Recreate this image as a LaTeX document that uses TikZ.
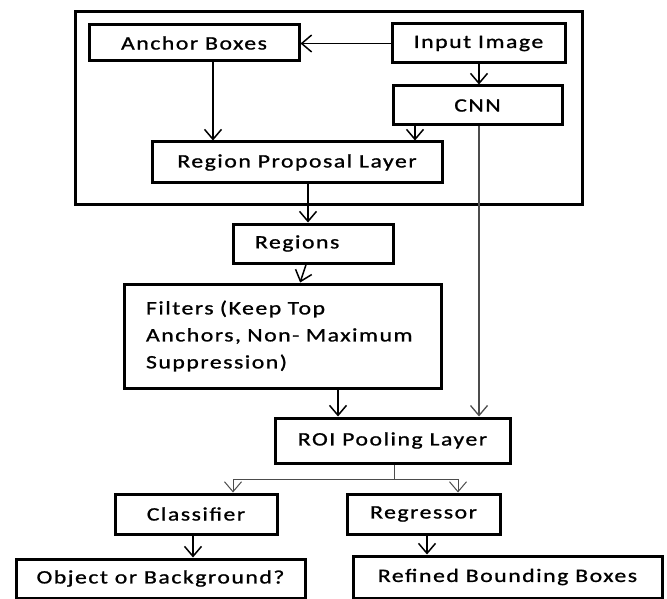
\documentclass[tikz,border=0pt]{standalone}
\usepackage{fontspec}
\setmainfont{Carlito}[FakeStretch=1.25,LetterSpace=8,FakeBold=1]
\usetikzlibrary{arrows.meta,positioning,calc}

\begin{document}
\begin{tikzpicture}[x=1pt,y=-1pt,>={Straight Barb[length=10pt,width=17pt]},
 s/.style={draw,line width=3pt,inner sep=0pt,font=\fontsize{19}{27}\selectfont},
 a/.style={->,line width=1.5pt},
 t/.style={->,line width=1pt,draw=black!70}]
 \useasboundingbox (0,0) rectangle (667,599);
 \draw[line width=3pt] (75,12) rectangle (582,204);
 \node[s,minimum width=210pt,minimum height=36pt] (anc) at (194,43) {Anchor Boxes};
 \node[s,minimum width=173pt,minimum height=39pt] (inp) at (478.5,43.5) {Input Image};
 \node[s,minimum width=169pt,minimum height=39pt] (cnn) at (477.5,105.5) {CNN};
 \node[s,minimum width=290pt,minimum height=41pt] (rpl) at (297,162.5) {Region Proposal Layer};
 \node[s,minimum width=160pt,minimum height=39pt,text width=116pt,align=left] (reg) at (313,243.5) {Regions};
 \node[s,minimum width=317pt,minimum height=104pt,text width=273pt,align=left] (flt) at (282.5,336) {Filters (Keep Top\\Anchors, Non- Maximum\\Suppression)};
 \node[s,minimum width=235pt,minimum height=45pt] (roi) at (392.5,440.5) {ROI Pooling Layer};
 \node[s,minimum width=162pt,minimum height=40pt] (cls) at (196,514) {Classifier};
 \node[s,minimum width=153pt,minimum height=40pt] (rgr) at (423.5,514) {Regressor};
 \node[s,minimum width=289pt,minimum height=39pt] (obj) at (160.5,578.5) {Object or Background?};
 \node[s,minimum width=309pt,minimum height=42pt] (ref) at (507.5,577) {Refined Bounding Boxes};
 % x positions of the connectors
 \coordinate (xa) at (213,0); \coordinate (xb) at (415,0); \coordinate (xc) at (479,0);
 \coordinate (xd) at (308,0); \coordinate (xe) at (338,0); \coordinate (xi) at (193,0);
 \coordinate (xj) at (427,0); \coordinate (xg) at (233,0); \coordinate (xh) at (458,0);
 \coordinate (br) at (394,479);
 \draw[a] (inp.west) -- (inp.west -| anc.east); \draw[a] (inp.south -| xc) -- (cnn.north -| xc);
 \draw[a] (anc.south -| xa) -- (rpl.north -| xa); \draw[a] (cnn.south -| xb) -- (rpl.north -| xb);
 \draw[a] (rpl.south -| xd) -- (reg.north -| xd); \draw[a] (reg) -- (flt);
 \draw[a] (flt.south -| xe) -- (roi.north -| xe); \draw[t,line width=1.3pt] (cnn.south -| xc) -- (roi.north -| xc);
 \draw[t] (roi.south -| br) -- (br) -| (cls.north -| xg); \draw[t] (br) -| (rgr.north -| xh);
 \draw[a] (cls.south -| xi) -- (obj.north -| xi); \draw[a] (rgr.south -| xj) -- (ref.north -| xj);
\end{tikzpicture}
\end{document}
